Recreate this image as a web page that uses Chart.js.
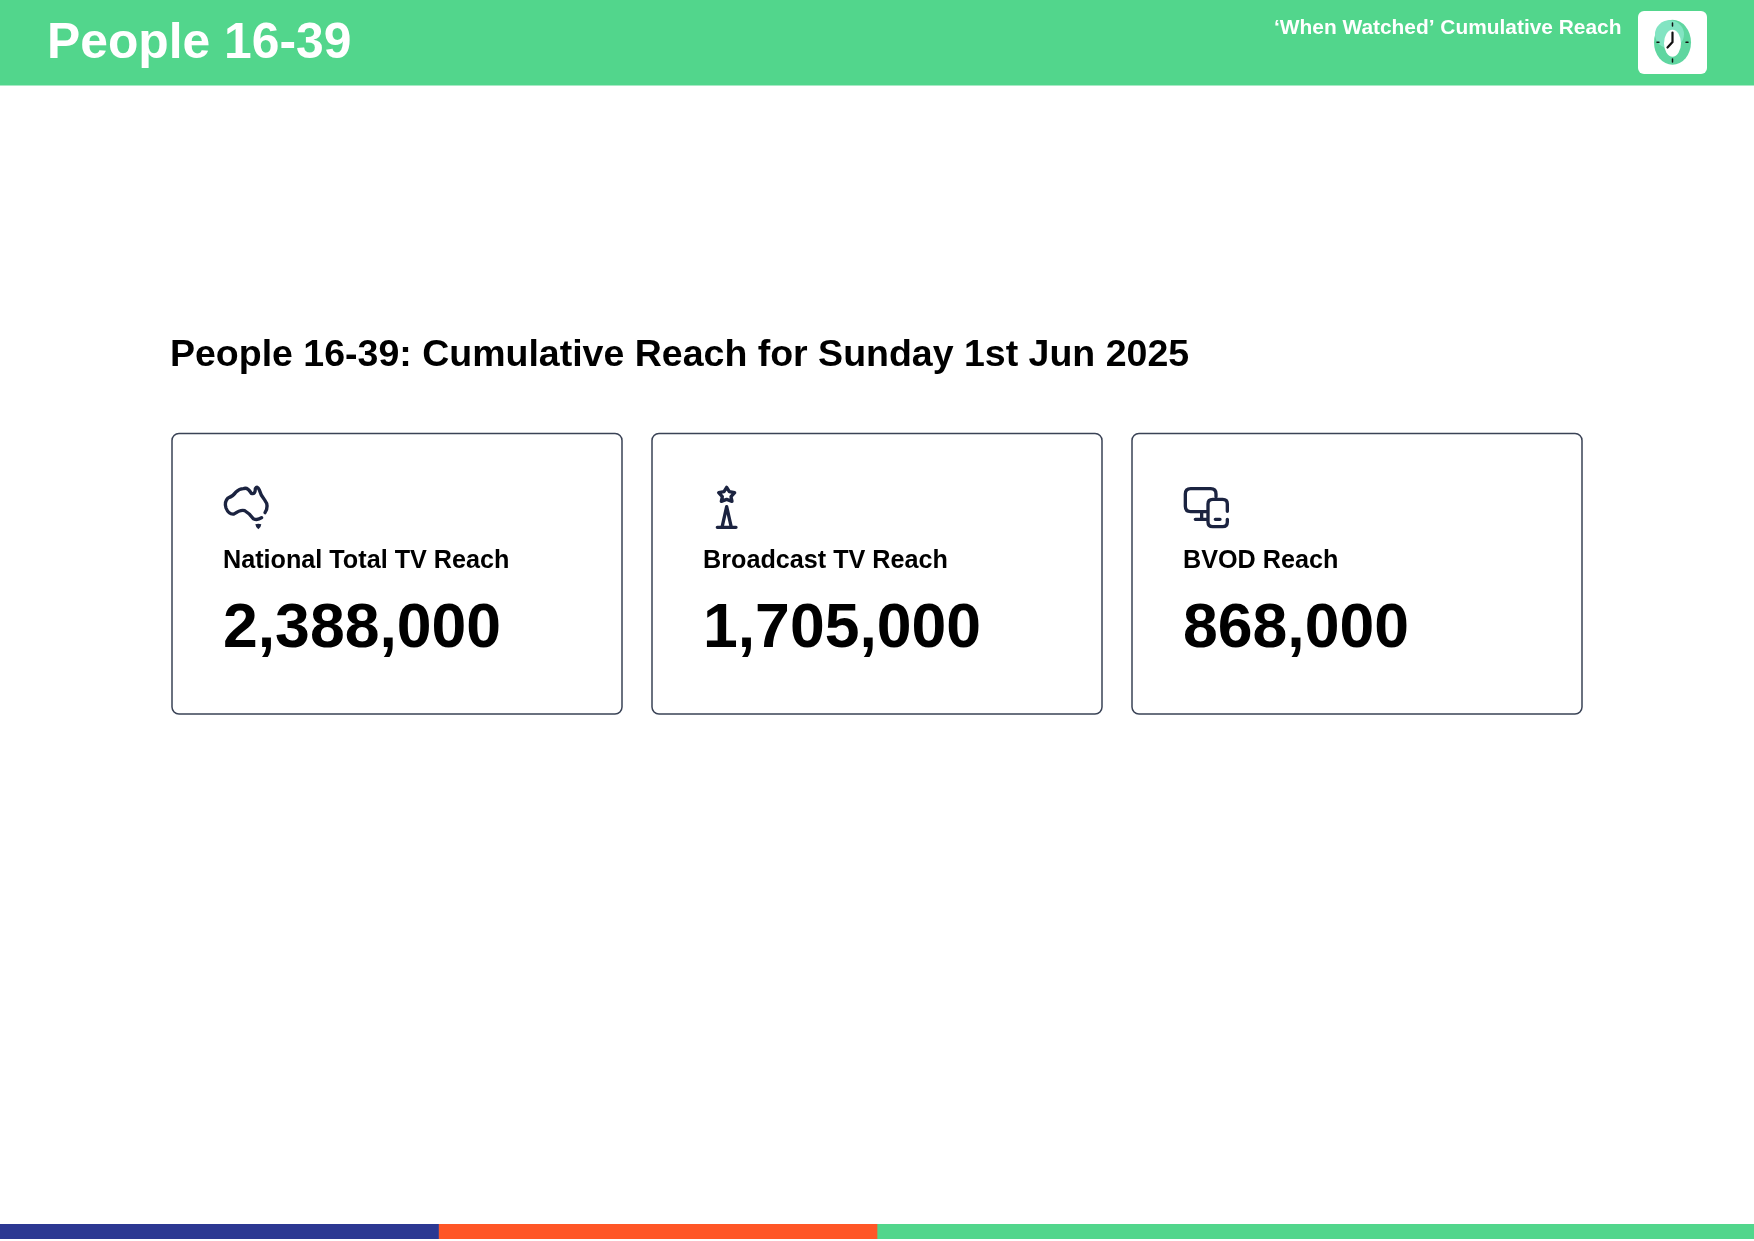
<!DOCTYPE html>
<html>
<head>
<meta charset="utf-8">
<title>People 16-39</title>
<script src="https://cdn.jsdelivr.net/npm/chart.js@4/dist/chart.umd.min.js"></script>
<style>
  html, body { margin: 0; padding: 0; background: #fff; }
  canvas { display: block; }
</style>
</head>
<body>
<canvas id="page" width="1754" height="1241"></canvas>
<script>
// ── Data ────────────────────────────────────────────────────────────
const audience = 'People 16-39';
const reportName = '‘When Watched’ Cumulative Reach';
const reportDate = 'Sunday 1st Jun 2025';
const cardLabels = ['National Total TV Reach', 'Broadcast TV Reach', 'BVOD Reach'];
const cardValues = [2388000, 1705000, 868000];
const stripShares = [1, 1, 2];

// ── Style ───────────────────────────────────────────────────────────
const GREEN = '#52D68C';
const INK = '#1B2340';
const FONT = "'Liberation Sans', Arial, sans-serif";
const STRIP_COLORS = ['#2C3892', '#FF5627', GREEN];
const CARD_LEFTS = [172, 652, 1132];

function text(ctx, str, x, y, size, color) {
  ctx.font = `bold ${size}px ${FONT}`;
  ctx.fillStyle = color;
  ctx.textBaseline = 'alphabetic';
  ctx.fillText(str, x, y);
}

// ── Icons, drawn in the zoomed units they were read at (1/3 px) ─────
function icon(ctx, x, y, draw) {
  ctx.save();
  ctx.translate(x, y);
  ctx.scale(1 / 3, 1 / 3);
  ctx.strokeStyle = INK;
  ctx.fillStyle = INK;
  ctx.lineCap = 'round';
  ctx.lineJoin = 'round';
  ctx.lineWidth = 10;
  draw(ctx);
  ctx.restore();
}

function drawAustralia(ctx) {
  ctx.stroke(new Path2D('M165 128 Q178 108 164 90 Q152 76 148 60 Q142 46 136 56 Q136 74 124 70 Q112 50 100 56 Q88 56 78 66 Q70 78 54 84 Q42 96 48 114 Q56 134 72 132 Q92 118 104 122 Q118 130 130 146 Q142 152 155 143'));
  ctx.fill(new Path2D('M136 163 Q145 160 154 163 Q153 172 145 178 Q137 172 136 163 Z'));
}

function drawTower(ctx) {
  ctx.stroke(new Path2D('M140 52 L148 65 L164 68 L153 80 L156 94 L140 88 L124 94 L127 80 L116 68 L132 65 Z'));
  ctx.stroke(new Path2D('M140 110 L126 172 M140 110 L154 172 M112 172 L168 172'));
}

function drawDevices(ctx) {
  ctx.stroke(new Path2D('M138 80 L138 72 Q138 56 122 56 L62 56 Q46 56 46 72 L46 109 Q46 125 62 125 L112 125 M95 125 L95 148 M76 148 L112 148'));
  ctx.stroke(new Path2D('M172 124 L172 102 Q172 88 158 88 L128 88 Q114 88 114 102 L114 156 Q114 170 128 170 L158 170 Q172 170 172 156 L172 148 M136 148 L150 148'));
}

function drawClock(ctx) {
  const cx = 1672.5, cy = 42.3;
  ctx.fillStyle = '#5FD6A0';
  ctx.beginPath();
  ctx.ellipse(cx, cy, 18.5, 22.5, 0, 0, Math.PI * 2);
  ctx.fill();
  ctx.fillStyle = '#82E4C2';
  ctx.beginPath();
  ctx.ellipse(cx - 3, cy - 8, 14.5, 14, 0, 0, Math.PI * 2);
  ctx.fill();
  ctx.fillStyle = '#FFFFFF';
  ctx.beginPath();
  ctx.ellipse(cx, cy + 1, 8.5, 13.5, 0, 0, Math.PI * 2);
  ctx.fill();
  ctx.strokeStyle = '#111111';
  ctx.lineCap = 'round';
  ctx.lineWidth = 1.5;
  ctx.beginPath();
  ctx.moveTo(cx, 23); ctx.lineTo(cx, 26);
  ctx.moveTo(cx, 59); ctx.lineTo(cx, 62);
  ctx.moveTo(1657, cy); ctx.lineTo(1659, cy);
  ctx.moveTo(1686, cy); ctx.lineTo(1688, cy);
  ctx.stroke();
  ctx.lineWidth = 2.2;
  ctx.beginPath();
  ctx.moveTo(cx, 32.5); ctx.lineTo(cx, 42); ctx.lineTo(1667.5, 47.5);
  ctx.stroke();
}

// ── Page furniture and cards ────────────────────────────────────────
const CARD_ICONS = [
  [210, 470, drawAustralia],
  [680, 470, drawTower],
  [1170, 470, drawDevices],
];

const reachCards = {
  id: 'reachCards',
  beforeDatasetsDraw(chart) {
    const ctx = chart.ctx;
    ctx.save();
    ctx.fillStyle = '#FFFFFF';
    ctx.fillRect(0, 0, chart.width, chart.height);

    // header band
    ctx.fillStyle = GREEN;
    ctx.fillRect(0, 0, chart.width, 85.5);
    text(ctx, audience, 47, 58, 49.8, '#FFFFFF');
    text(ctx, reportName, 1274, 34, 20.9, '#FFFFFF');
    ctx.fillStyle = '#FFFFFF';
    ctx.beginPath();
    ctx.roundRect(1638, 11, 69, 63, 6);
    ctx.fill();
    drawClock(ctx);

    text(ctx, `${audience}: Cumulative Reach for ${reportDate}`, 170, 366, 37.5, '#000000');

    cardLabels.forEach((label, i) => {
      const left = CARD_LEFTS[i];
      ctx.strokeStyle = '#3A4356';
      ctx.lineWidth = 1.5;
      ctx.beginPath();
      ctx.roundRect(left, 433.5, 450, 280.5, 7);
      ctx.stroke();
      text(ctx, label, left + 51, 568, 25.2, '#000000');
      text(ctx, cardValues[i].toLocaleString('en-US'), left + 51, 647, 62.5, '#000000');
      const [ix, iy, draw] = CARD_ICONS[i];
      icon(ctx, ix, iy, draw);
    });
    ctx.restore();
  },
};

// ── Chart: the tricolour strip along the foot of the page ───────────
new Chart(document.getElementById('page').getContext('2d'), {
  type: 'bar',
  plugins: [reachCards],
  data: {
    labels: [audience],
    datasets: stripShares.map((share, i) => ({
      data: [share],
      backgroundColor: STRIP_COLORS[i],
      borderWidth: 0,
      barPercentage: 1,
      categoryPercentage: 1,
    })),
  },
  options: {
    indexAxis: 'y',
    responsive: false,
    animation: false,
    layout: { padding: { top: 1224, bottom: 2 } },
    plugins: { legend: { display: false }, tooltip: { enabled: false } },
    scales: {
      x: { stacked: true, display: false, min: 0, max: 4 },
      y: { stacked: true, display: false },
    },
  },
});
</script>
</body>
</html>
